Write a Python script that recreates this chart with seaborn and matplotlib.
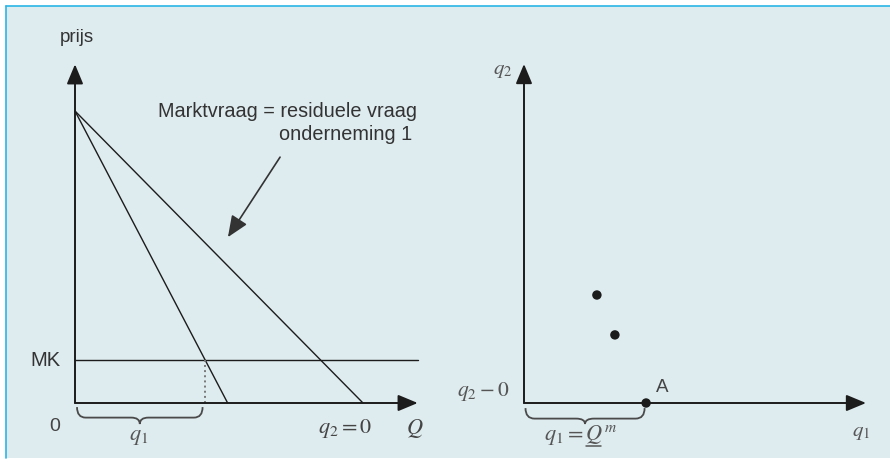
import matplotlib
matplotlib.use('Agg')
import matplotlib.pyplot as plt
from matplotlib.patches import Rectangle, PathPatch
from matplotlib.path import Path
from matplotlib.lines import Line2D
import seaborn as sns

sns.set_style('white')
plt.rcParams['font.family'] = ['Liberation Sans', 'DejaVu Sans']
plt.rcParams['mathtext.fontset'] = 'stix'

# left panel: market demand, marginal revenue, marginal cost
demand_q = [0, 10.0]
demand_p = [10.0, 0]
mr_q = [0, 5.3]
mr_p = [10.0, 0]
mk_level = 1.47
q1_opt = 4.5
left_x_end = 11.9
left_y_end = 11.6

# right panel: output combinations (q1, q2)
combo_q1 = [2.43, 3.03, 4.07]
combo_q2 = [3.6, 2.27, 0.0]
right_x_end = 11.4
right_y_end = 11.3

W, H = 890, 462
ink = '#1c1c1c'
bg = '#deebef'

fig = plt.figure(figsize=(W / 100, H / 100), dpi=100)
fig.patch.set_facecolor('white')

# panel background with cyan border on top and left
fig.patches.append(Rectangle((6 / W, 1 - 458 / H), 1 - 6 / W, (458 - 6) / H,
                             transform=fig.transFigure, facecolor=bg, edgecolor='none', zorder=-5))
fig.lines.append(Line2D([6 / W, 1], [1 - 6 / H, 1 - 6 / H], transform=fig.transFigure,
                        color='#2bb5e6', lw=1.2, zorder=-4))
fig.lines.append(Line2D([6 / W, 6 / W], [1 - 6 / H, 1 - 458 / H], transform=fig.transFigure,
                        color='#2bb5e6', lw=1.2, zorder=-4))


def make_axes(ox, oy, sx, sy):
    ax = fig.add_axes([0, 0, 1, 1])
    ax.set_zorder(2)
    ax.set_xlim(-ox / sx, (W - ox) / sx)
    ax.set_ylim(-(H - oy) / sy, oy / sy)
    ax.axis('off')
    ax.patch.set_alpha(0)
    return ax


def axis_arrows(ax, xend, yend):
    props = dict(arrowstyle='-|>,head_length=1.2,head_width=0.5', lw=1.4, color=ink,
                 shrinkA=0, shrinkB=0)
    ax.annotate('', xy=(xend, 0), xytext=(0, 0), arrowprops=props)
    ax.annotate('', xy=(0, yend), xytext=(0, 0), arrowprops=props)


def brace(ax, x0, x1, yt, yb, tip, r):
    xm = (x0 + x1) / 2
    verts = [(x0, yt), (x0, yb), (x0 + r, yb), (xm - r, yb), (xm, yb), (xm, tip),
             (xm, yb), (xm + r, yb), (x1 - r, yb), (x1, yb), (x1, yt)]
    codes = [Path.MOVETO, Path.CURVE3, Path.CURVE3, Path.LINETO, Path.CURVE3, Path.CURVE3,
             Path.CURVE3, Path.CURVE3, Path.LINETO, Path.CURVE3, Path.CURVE3]
    ax.add_patch(PathPatch(Path(verts, codes), facecolor='none', edgecolor='#4a4a4a', lw=1.3))


# ---- left panel ----
axl = make_axes(75, 403, 28.8, 29.2)
axis_arrows(axl, left_x_end, left_y_end)
sns.lineplot(x=demand_q, y=demand_p, ax=axl, color=ink, lw=1.0)
sns.lineplot(x=mr_q, y=mr_p, ax=axl, color=ink, lw=1.0)
sns.lineplot(x=[0, left_x_end], y=[mk_level, mk_level], ax=axl, color=ink, lw=1.0)
axl.plot([q1_opt, q1_opt], [0, mk_level], color='#777777', lw=1.4, ls=':')
brace(axl, 0.07, q1_opt - 0.07, -0.14, -0.5, -0.72, 0.3)

axl.text(0.07, 12.5, 'prijs', ha='center', va='center', fontsize=13.5, color='#333333')
axl.text(-0.5, mk_level, 'MK', ha='right', va='center', fontsize=14.5, color='#333333')
axl.text(-0.69, -0.82, '0', ha='center', va='center', fontsize=14, color='#444444')
axl.text(2.22, -1.16, r'$q_1$', ha='center', va='center', fontsize=16, color='#555555')
axl.text(9.375, -0.86, r'$q_2 = 0$', ha='center', va='center', fontsize=16, color='#444444')
axl.text(11.8, -0.89, r'$Q$', ha='center', va='center', fontsize=16, color='#444444')
axl.text(11.875, 9.97, 'Marktvraag = residuele vraag', ha='right', va='center',
         fontsize=14.3, color='#333333')
axl.text(11.7, 9.18, 'onderneming 1', ha='right', va='center', fontsize=14.3, color='#333333')
axl.annotate('', xy=(5.31, 5.68), xytext=(7.12, 8.42),
             arrowprops=dict(arrowstyle='-|>,head_length=1.3,head_width=0.55', lw=1.2,
                             color='#333333', shrinkA=0, shrinkB=0))

# ---- right panel ----
axr = make_axes(524, 403, 30, 30)
axis_arrows(axr, right_x_end, right_y_end)
sns.scatterplot(x=combo_q1, y=combo_q2, ax=axr, color=ink, s=46, edgecolor='none', zorder=5)
brace(axr, 0.05, combo_q1[2] - 0.05, -0.17, -0.52, -0.7, 0.3)

axr.text(-0.7, 11.1, r'$q_2$', ha='center', va='center', fontsize=15, color='#555555')
axr.text(-0.5, 0.37, r'$q_2 - 0$', ha='right', va='center', fontsize=15.5, color='#555555')
axr.text(4.6, 0.5, 'A', ha='center', va='center', fontsize=13.5, color='#444444')
axr.text(1.87, -1.07, r'$q_1 = Q^m$', ha='center', va='center', fontsize=16, color='#555555')
axr.plot([2.08, 2.55], [-1.42, -1.42], color='#555555', lw=1.1)
axr.text(11.23, -0.97, r'$q_1$', ha='center', va='center', fontsize=15, color='#555555')

fig.savefig('out.png', dpi=100)
